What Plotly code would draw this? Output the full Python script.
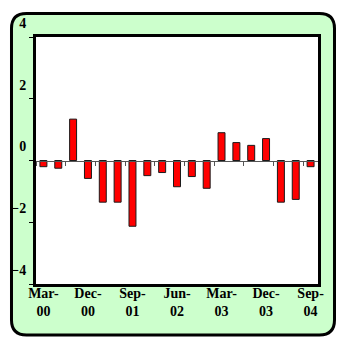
import plotly.graph_objects as go

# Quarterly changes, Mar-00 .. Sep-04
quarters = [
    "Mar-00", "Jun-00", "Sep-00", "Dec-00",
    "Mar-01", "Jun-01", "Sep-01", "Dec-01",
    "Mar-02", "Jun-02", "Sep-02", "Dec-02",
    "Mar-03", "Jun-03", "Sep-03", "Dec-03",
    "Mar-04", "Jun-04", "Sep-04",
]
values = [
    -0.20, -0.25, 1.34, -0.58,
    -1.35, -1.35, -2.13, -0.49,
    -0.39, -0.85, -0.52, -0.90,
    0.90, 0.58, 0.49, 0.71,
    -1.35, -1.26, -0.20,
]
label_quarters = quarters[::3]
label_text = [q.replace("-", "-<br>") for q in label_quarters]
y_ticks = [-4, -2, 0, 2, 4]

SERIF = "Liberation Serif, Times New Roman, serif"
FONT = dict(family=SERIF, size=14, color="black")
TICKFONT = dict(family=SERIF, size=14, color="black", weight="bold")

fig = go.Figure()
fig.add_trace(go.Bar(
    x=quarters, y=values,
    marker=dict(color="#FF0000", line=dict(color="#1a1a1a", width=1)),
    width=0.47,
    xaxis="x", yaxis="y",
    hoverinfo="skip",
))
# invisible trace that carries the axis drawn through zero
fig.add_trace(go.Scatter(
    x=quarters, y=[0] * len(quarters), mode="markers",
    marker=dict(opacity=0), xaxis="x2", yaxis="y",
    showlegend=False, hoverinfo="skip",
))

# rounded light-green panel behind everything
x0, x1, y0, y1 = -0.0869, 1.0585, -0.2065, 1.0951
rx, ry = 0.0532, 0.0607
panel = (
    f"M {x0 + rx},{y1} L {x1 - rx},{y1} Q {x1},{y1} {x1},{y1 - ry} "
    f"L {x1},{y0 + ry} Q {x1},{y0} {x1 - rx},{y0} "
    f"L {x0 + rx},{y0} Q {x0},{y0} {x0},{y0 + ry} "
    f"L {x0},{y1 - ry} Q {x0},{y1} {x0 + rx},{y1} Z"
)
fig.add_shape(type="path", path=panel, xref="paper", yref="paper",
              fillcolor="#CCFFCC", line=dict(color="black", width=3), layer="below")
fig.add_shape(type="rect", x0=0, x1=1, y0=0, y1=1, xref="paper", yref="paper",
              fillcolor="white", line=dict(width=0), layer="below")

fig.update_layout(
    width=339, height=337,
    margin=dict(l=36, r=21, t=37, b=53),
    paper_bgcolor="white",
    plot_bgcolor="white",
    showlegend=False,
    font=FONT,
    xaxis=dict(
        type="category", categoryorder="array", categoryarray=quarters,
        range=[-0.5, len(quarters) - 0.5],
        tickvals=label_quarters, ticktext=label_text,
        ticks="", showgrid=False, zeroline=False,
        ticklabelstandoff=-6,
        showline=True, mirror=True, linecolor="black", linewidth=3,
        tickfont=TICKFONT,
    ),
    xaxis2=dict(
        type="category", categoryorder="array", categoryarray=quarters,
        range=[-0.5, len(quarters) - 0.5],
        overlaying="x", anchor="free", position=0.5, side="bottom",
        showline=True, linecolor="#555555", linewidth=1,
        ticks="outside", tickson="boundaries", ticklen=4, tickcolor="#555555",
        showticklabels=False, showgrid=False, zeroline=False,
    ),
    yaxis=dict(
        range=[-4, 4], tickvals=y_ticks,
        ticks="outside", ticklen=4, tickcolor="black",
        ticklabelshift=-14,
        showgrid=False, zeroline=False,
        showline=True, mirror=True, linecolor="black", linewidth=3,
        tickfont=TICKFONT,
    ),
)

fig.write_html("out.html")
